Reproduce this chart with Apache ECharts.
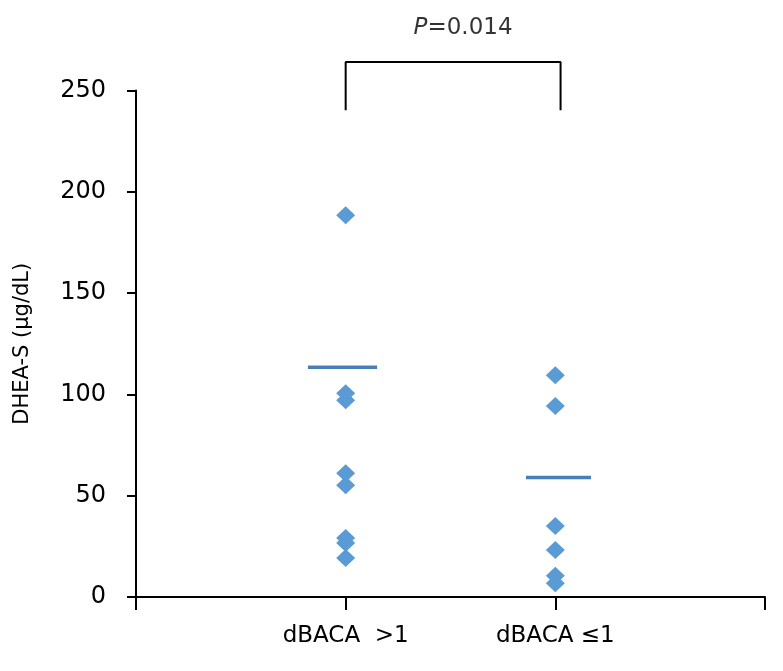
<!DOCTYPE html>
<html>
<head>
<meta charset="utf-8">
<script src="https://cdn.jsdelivr.net/npm/echarts@6/dist/echarts.min.js"></script>
<style>html,body{margin:0;padding:0;background:#fff}#c{width:783px;height:671px}</style>
</head>
<body>
<div id="c"></div>
<script>
const categories = ['dBACA  >1', 'dBACA \u22641'];
const categoryPos = [1, 2];
const group1 = [188.4, 100.6, 97.1, 61.1, 55.2, 29.1, 26.6, 19.2];
const group2 = [109.5, 94.3, 35.0, 23.2, 10.5, 6.8];
const means = [113.4, 59.0];
const meanSpan = [[0.82, 1.15], [1.86, 2.17]];
const bracketX = [1, 2.025];
const bracketY = [240.2, 264.1];
const pText = {x: 1.56, y: 281, text: '0.014'};
const yTicks = [0, 50, 100, 150, 200, 250];

const font = 'DejaVu Sans';
const chart = echarts.init(document.getElementById('c'));

const pts = [];
group1.forEach(v => pts.push([categoryPos[0], v]));
group2.forEach(v => pts.push([categoryPos[1], v]));

const meanSeries = means.map((m, i) => ({
  type: 'line', silent: true, clip: false, symbol: 'none', z: 3,
  lineStyle: {color: '#4A7EBB', width: 3.5},
  data: [[meanSpan[i][0], m], [meanSpan[i][1], m]]
}));

chart.setOption({
  animation: false,
  grid: {left: 136, right: 18, top: 90.5, bottom: 74},
  xAxis: {
    type: 'value', min: 0, max: 3, interval: 1,
    splitLine: {show: false},
    axisLine: {show: true, lineStyle: {color: '#000', width: 2}},
    axisTick: {show: true, length: 13, inside: false, lineStyle: {color: '#000', width: 2}},
    axisLabel: {
      margin: 28, fontFamily: font, fontSize: 23, color: '#000',
      formatter: v => { const k = categoryPos.indexOf(v); return k >= 0 ? categories[k] : ''; }
    }
  },
  yAxis: {
    type: 'value', min: 0, max: 250, interval: 50,
    name: 'DHEA-S (\u00b5g/dL)', nameLocation: 'middle', nameGap: 103,
    nameTextStyle: {fontFamily: font, fontSize: 21, color: '#000'},
    splitLine: {show: false},
    axisLine: {show: true, lineStyle: {color: '#000', width: 2}},
    axisTick: {show: true, length: 9, lineStyle: {color: '#000', width: 2}},
    axisLabel: {margin: 30, fontFamily: font, fontSize: 24, color: '#000',
      formatter: v => yTicks.indexOf(v) >= 0 ? String(v) : ''}
  },
  series: [
    {
      type: 'scatter', symbol: 'diamond', symbolSize: [19, 18], z: 4,
      itemStyle: {color: '#5B9BD5', opacity: 1},
      data: pts
    },
    ...meanSeries,
    {
      type: 'line', silent: true, clip: false, symbol: 'none',
      lineStyle: {color: '#000', width: 2},
      data: [[bracketX[0], bracketY[0]], [bracketX[0], bracketY[1]], [bracketX[1], bracketY[1]], [bracketX[1], bracketY[0]]]
    },
    {
      type: 'scatter', silent: true, clip: false, symbolSize: 0,
      label: {
        show: true, position: 'inside', color: '#000',
        formatter: '{i|P}{n|=' + pText.text + '}',
        rich: {
          i: {fontFamily: font, fontSize: 23, fontStyle: 'italic', color: '#000'},
          n: {fontFamily: font, fontSize: 23, color: '#000'}
        }
      },
      data: [[pText.x, pText.y]]
    }
  ]
});
</script>
</body>
</html>
